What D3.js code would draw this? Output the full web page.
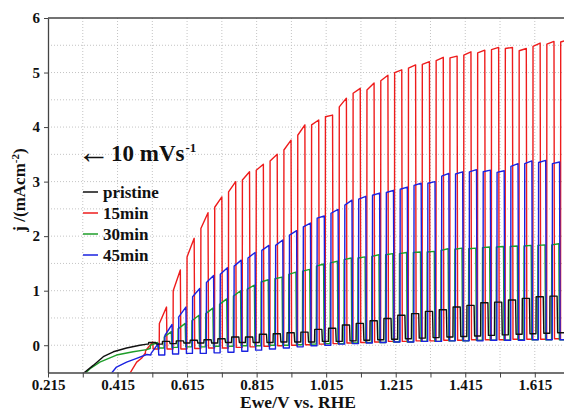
<!DOCTYPE html>
<html>
<head>
<meta charset="utf-8">
<script src="https://cdn.jsdelivr.net/npm/d3@7"></script>
<style>
  body { margin: 0; background: #fff; }
  text { font-family: "Liberation Serif", "Times New Roman", serif; font-weight: bold; fill: #111; }
</style>
</head>
<body>
<div id="viz"></div>
<script>
// series, colours, chopping
var names = ["pristine", "15min", "30min", "45min"];
var colors = ["#111111", "#ee1c1c", "#1e9e2a", "#1a22e0"];
var period = 0.0398, onWidth = 0.021;
var chopStart = [0.504, 0.495, 0.509, 0.511];

var xTicks = [0.215, 0.415, 0.615, 0.815, 1.015, 1.215, 1.415, 1.615];
var yTicks = [0, 1, 2, 3, 4, 5, 6];

// dark part before chopping starts [E, j]
var pristinePre = [[0.316,-0.52],[0.345,-0.37],[0.374,-0.21],[0.403,-0.12],[0.441,-0.05],[0.479,0.0],[0.5,0.02]];
var red15Pre = [[0.451,-0.51],[0.47,-0.31],[0.484,-0.24],[0.494,-0.15]];
var green30Pre = [[0.321,-0.52],[0.336,-0.43],[0.364,-0.31],[0.412,-0.18],[0.46,-0.12],[0.499,-0.08],[0.508,-0.06]];
var blue45Pre = [[0.398,-0.51],[0.412,-0.4],[0.441,-0.31],[0.47,-0.24],[0.499,-0.17],[0.51,-0.18]];

// current at light on (start / end of each pulse) and in the dark after it
var pristineOn = [0.05,0.07,0.08,0.09,0.1,0.12,0.15,0.15,0.2,0.21,0.23,0.24,0.29,0.31,0.37,0.4,0.45,0.49,0.55,0.58,0.62,0.65,0.7,0.73,0.78,0.79,0.83,0.86,0.89,0.9];
var pristineOff = [0.02,0.03,0.04,0.04,0.04,0.05,0.05,0.05,0.05,0.06,0.06,0.06,0.07,0.07,0.08,0.09,0.1,0.11,0.12,0.13,0.14,0.15,0.16,0.17,0.18,0.19,0.2,0.21,0.22,0.23];

var red15OnStart = [-0.1,0.4,1.0,1.62,2.14,2.53,2.81,3.03,3.21,3.38,3.58,3.85,4.04,4.19,4.37,4.62,4.68,4.85,5.0,5.08,5.15,5.22,5.27,5.32,5.36,5.42,5.44,5.4,5.48,5.52,5.56];
var red15OnEnd = [0.06,0.7,1.38,1.96,2.43,2.72,3.0,3.18,3.32,3.5,3.76,4.04,4.13,4.22,4.53,4.71,4.81,4.95,5.05,5.14,5.2,5.28,5.3,5.38,5.41,5.46,5.46,5.44,5.54,5.57,5.6];
var red15Off = [-0.07,-0.07,-0.07,-0.06,-0.05,-0.05,-0.04,-0.03,-0.02,-0.01,0,0.01,0.02,0.03,0.04,0.05,0.06,0.07,0.07,0.08,0.08,0.09,0.09,0.1,0.1,0.1,0.11,0.11,0.11,0.12,0.12];

var green30OnStart = [0.0,0.15,0.3,0.45,0.58,0.75,0.9,1.03,1.16,1.22,1.3,1.36,1.45,1.51,1.57,1.6,1.63,1.66,1.68,1.7,1.71,1.74,1.76,1.77,1.79,1.8,1.81,1.82,1.83,1.84];
var green30OnEnd = [0.05,0.25,0.4,0.55,0.68,0.85,1.0,1.1,1.2,1.25,1.34,1.39,1.49,1.54,1.6,1.62,1.66,1.68,1.7,1.71,1.72,1.77,1.78,1.78,1.8,1.81,1.82,1.83,1.84,1.86];
var green30Off = [-0.05,-0.04,-0.03,-0.03,-0.02,-0.02,-0.01,-0.01,0,0,0.01,0.02,0.03,0.03,0.04,0.05,0.05,0.06,0.06,0.07,0.07,0.08,0.08,0.09,0.09,0.09,0.1,0.1,0.1,0.1];

var blue45OnStart = [-0.15,0.18,0.52,0.89,1.15,1.3,1.45,1.6,1.74,1.83,2.02,2.17,2.33,2.42,2.57,2.68,2.75,2.8,2.86,2.93,2.97,3.1,3.14,3.18,3.18,3.17,3.28,3.33,3.35,3.33];
var blue45OnEnd = [0.03,0.38,0.7,1.04,1.28,1.42,1.56,1.7,1.83,1.93,2.1,2.24,2.37,2.49,2.66,2.73,2.79,2.84,2.9,2.97,3.0,3.15,3.18,3.22,3.21,3.2,3.33,3.38,3.39,3.36];
var blue45Off = [-0.18,-0.16,-0.15,-0.15,-0.14,-0.13,-0.11,-0.09,-0.07,-0.05,-0.03,-0.01,0,0.02,0.03,0.04,0.05,0.06,0.06,0.07,0.07,0.08,0.08,0.08,0.09,0.09,0.09,0.1,0.1,0.1];

var W = 564, H = 412;
var margin = { top: 18, right: 0, bottom: 39.5, left: 48 },
    width = W - margin.left - margin.right,
    height = H - margin.top - margin.bottom;

var xScale = d3.scaleLinear().domain([0.215, 1.699]).range([0, width]);
var yScale = d3.scaleLinear().domain([-0.5, 6]).range([height, 0]);

var svg = d3.select('#viz').append('svg')
  .attr('width', W)
  .attr('height', H);

var g = svg.append('g')
  .attr('transform', 'translate(' + margin.left + ',' + margin.top + ')');

svg.append('clipPath').attr('id', 'clip')
  .append('rect').attr('width', width).attr('height', height);

// dotted grid
g.append('g').selectAll('line')
  .data(d3.range(0.315, 1.7, 0.1))
  .enter().append('line')
  .attr('x1', function(d) { return xScale(d); })
  .attr('x2', function(d) { return xScale(d); })
  .attr('y1', 0).attr('y2', height)
  .attr('stroke', '#c4c4c4').attr('stroke-dasharray', '1,2');

g.append('g').selectAll('line')
  .data(d3.range(0, 6, 0.5))
  .enter().append('line')
  .attr('x1', 0).attr('x2', width)
  .attr('y1', function(d) { return yScale(d); })
  .attr('y2', function(d) { return yScale(d); })
  .attr('stroke', '#c4c4c4').attr('stroke-dasharray', '1,2');

function chopped(pre, t0, onS, onE, off) {
  var pts = pre.slice();
  var last = pre[pre.length - 1][1];
  onS.forEach(function(v, k) {
    var a = t0 + k * period, b = a + onWidth;
    pts.push([a, last], [a + 0.0005, v], [b, onE[k]], [b + 0.0015, off[k]]);
    last = off[k];
  });
  pts.push([1.75, last]);
  return pts;
}

var curves = [
  chopped(red15Pre, chopStart[1], red15OnStart, red15OnEnd, red15Off),
  chopped(green30Pre, chopStart[2], green30OnStart, green30OnEnd, green30Off),
  chopped(blue45Pre, chopStart[3], blue45OnStart, blue45OnEnd, blue45Off),
  chopped(pristinePre, chopStart[0], pristineOn, pristineOn, pristineOff)
];
var curveColors = [colors[1], colors[2], colors[3], colors[0]];

var line = d3.line()
  .x(function(d) { return xScale(d[0]); })
  .y(function(d) { return yScale(d[1]); });

g.append('g').attr('clip-path', 'url(#clip)')
  .selectAll('path').data(curves)
  .enter().append('path')
  .attr('d', line)
  .attr('fill', 'none')
  .attr('stroke', function(d, i) { return curveColors[i]; })
  .attr('stroke-width', 1.4)
  .attr('stroke-linejoin', 'round');

// axes
var xAxis = d3.axisBottom(xScale)
  .tickValues(d3.range(0.215, 1.7, 0.1))
  .tickSize(5).tickSizeOuter(0)
  .tickFormat(function(d) {
    var v = xTicks.find(function(t) { return Math.abs(t - d) < 1e-6; });
    return v === undefined ? '' : d3.format('.3f')(v);
  });
var yAxis = d3.axisLeft(yScale)
  .tickValues(yTicks)
  .tickSize(4).tickSizeOuter(0)
  .tickFormat(d3.format('d'));

var xg = g.append('g')
  .attr('transform', 'translate(0,' + height + ')')
  .call(xAxis);
var yg = g.append('g').call(yAxis);

[xg, yg].forEach(function(ax) {
  ax.attr('font-family', null).attr('font-size', null);
  ax.select('.domain').attr('stroke', '#444').attr('stroke-width', 1.3);
  ax.selectAll('.tick line').attr('stroke', '#444');
  ax.selectAll('text').style('font-size', '15px').attr('fill', '#111');
});
xg.selectAll('text').attr('y', 7);
yg.selectAll('text').attr('x', -8);

g.append('line')
  .attr('x1', 0).attr('x2', width).attr('y1', 0).attr('y2', 0)
  .attr('stroke', '#444').attr('stroke-width', 1.3);

// titles
svg.append('text')
  .attr('x', 298).attr('y', 408)
  .attr('text-anchor', 'middle')
  .style('font-size', '17.5px')
  .text('Ewe/V vs. RHE');

var yt = svg.append('text')
  .attr('transform', 'translate(25,190) rotate(-90)')
  .attr('text-anchor', 'middle')
  .style('font-size', '17px');
yt.append('tspan').text('j /(mAcm');
yt.append('tspan').attr('dy', -6).style('font-size', '11px').text('-2');
yt.append('tspan').attr('dy', 6).text(')');

// scan rate note
svg.append('text')
  .attr('x', 77).attr('y', 163)
  .style('font-size', '33px').style('font-weight', 'normal')
  .text('\u2190');
var note = svg.append('text')
  .attr('x', 111).attr('y', 161)
  .style('font-size', '23px');
note.append('tspan').text('10 mVs');
note.append('tspan').attr('dy', -9).attr('dx', 1).style('font-size', '13px').text('-1');

// legend
var legend = svg.append('g').selectAll('g')
  .data(names)
  .enter().append('g')
  .attr('transform', function(d, i) { return 'translate(83,' + (198 + i * 21) + ')'; });
legend.append('line')
  .attr('x1', 0).attr('x2', 15).attr('y1', -6).attr('y2', -6)
  .attr('stroke', function(d, i) { return colors[i]; })
  .attr('stroke-width', 1.5);
legend.append('text')
  .attr('x', 20)
  .style('font-size', '17px')
  .text(function(d) { return d; });
</script>
</body>
</html>
